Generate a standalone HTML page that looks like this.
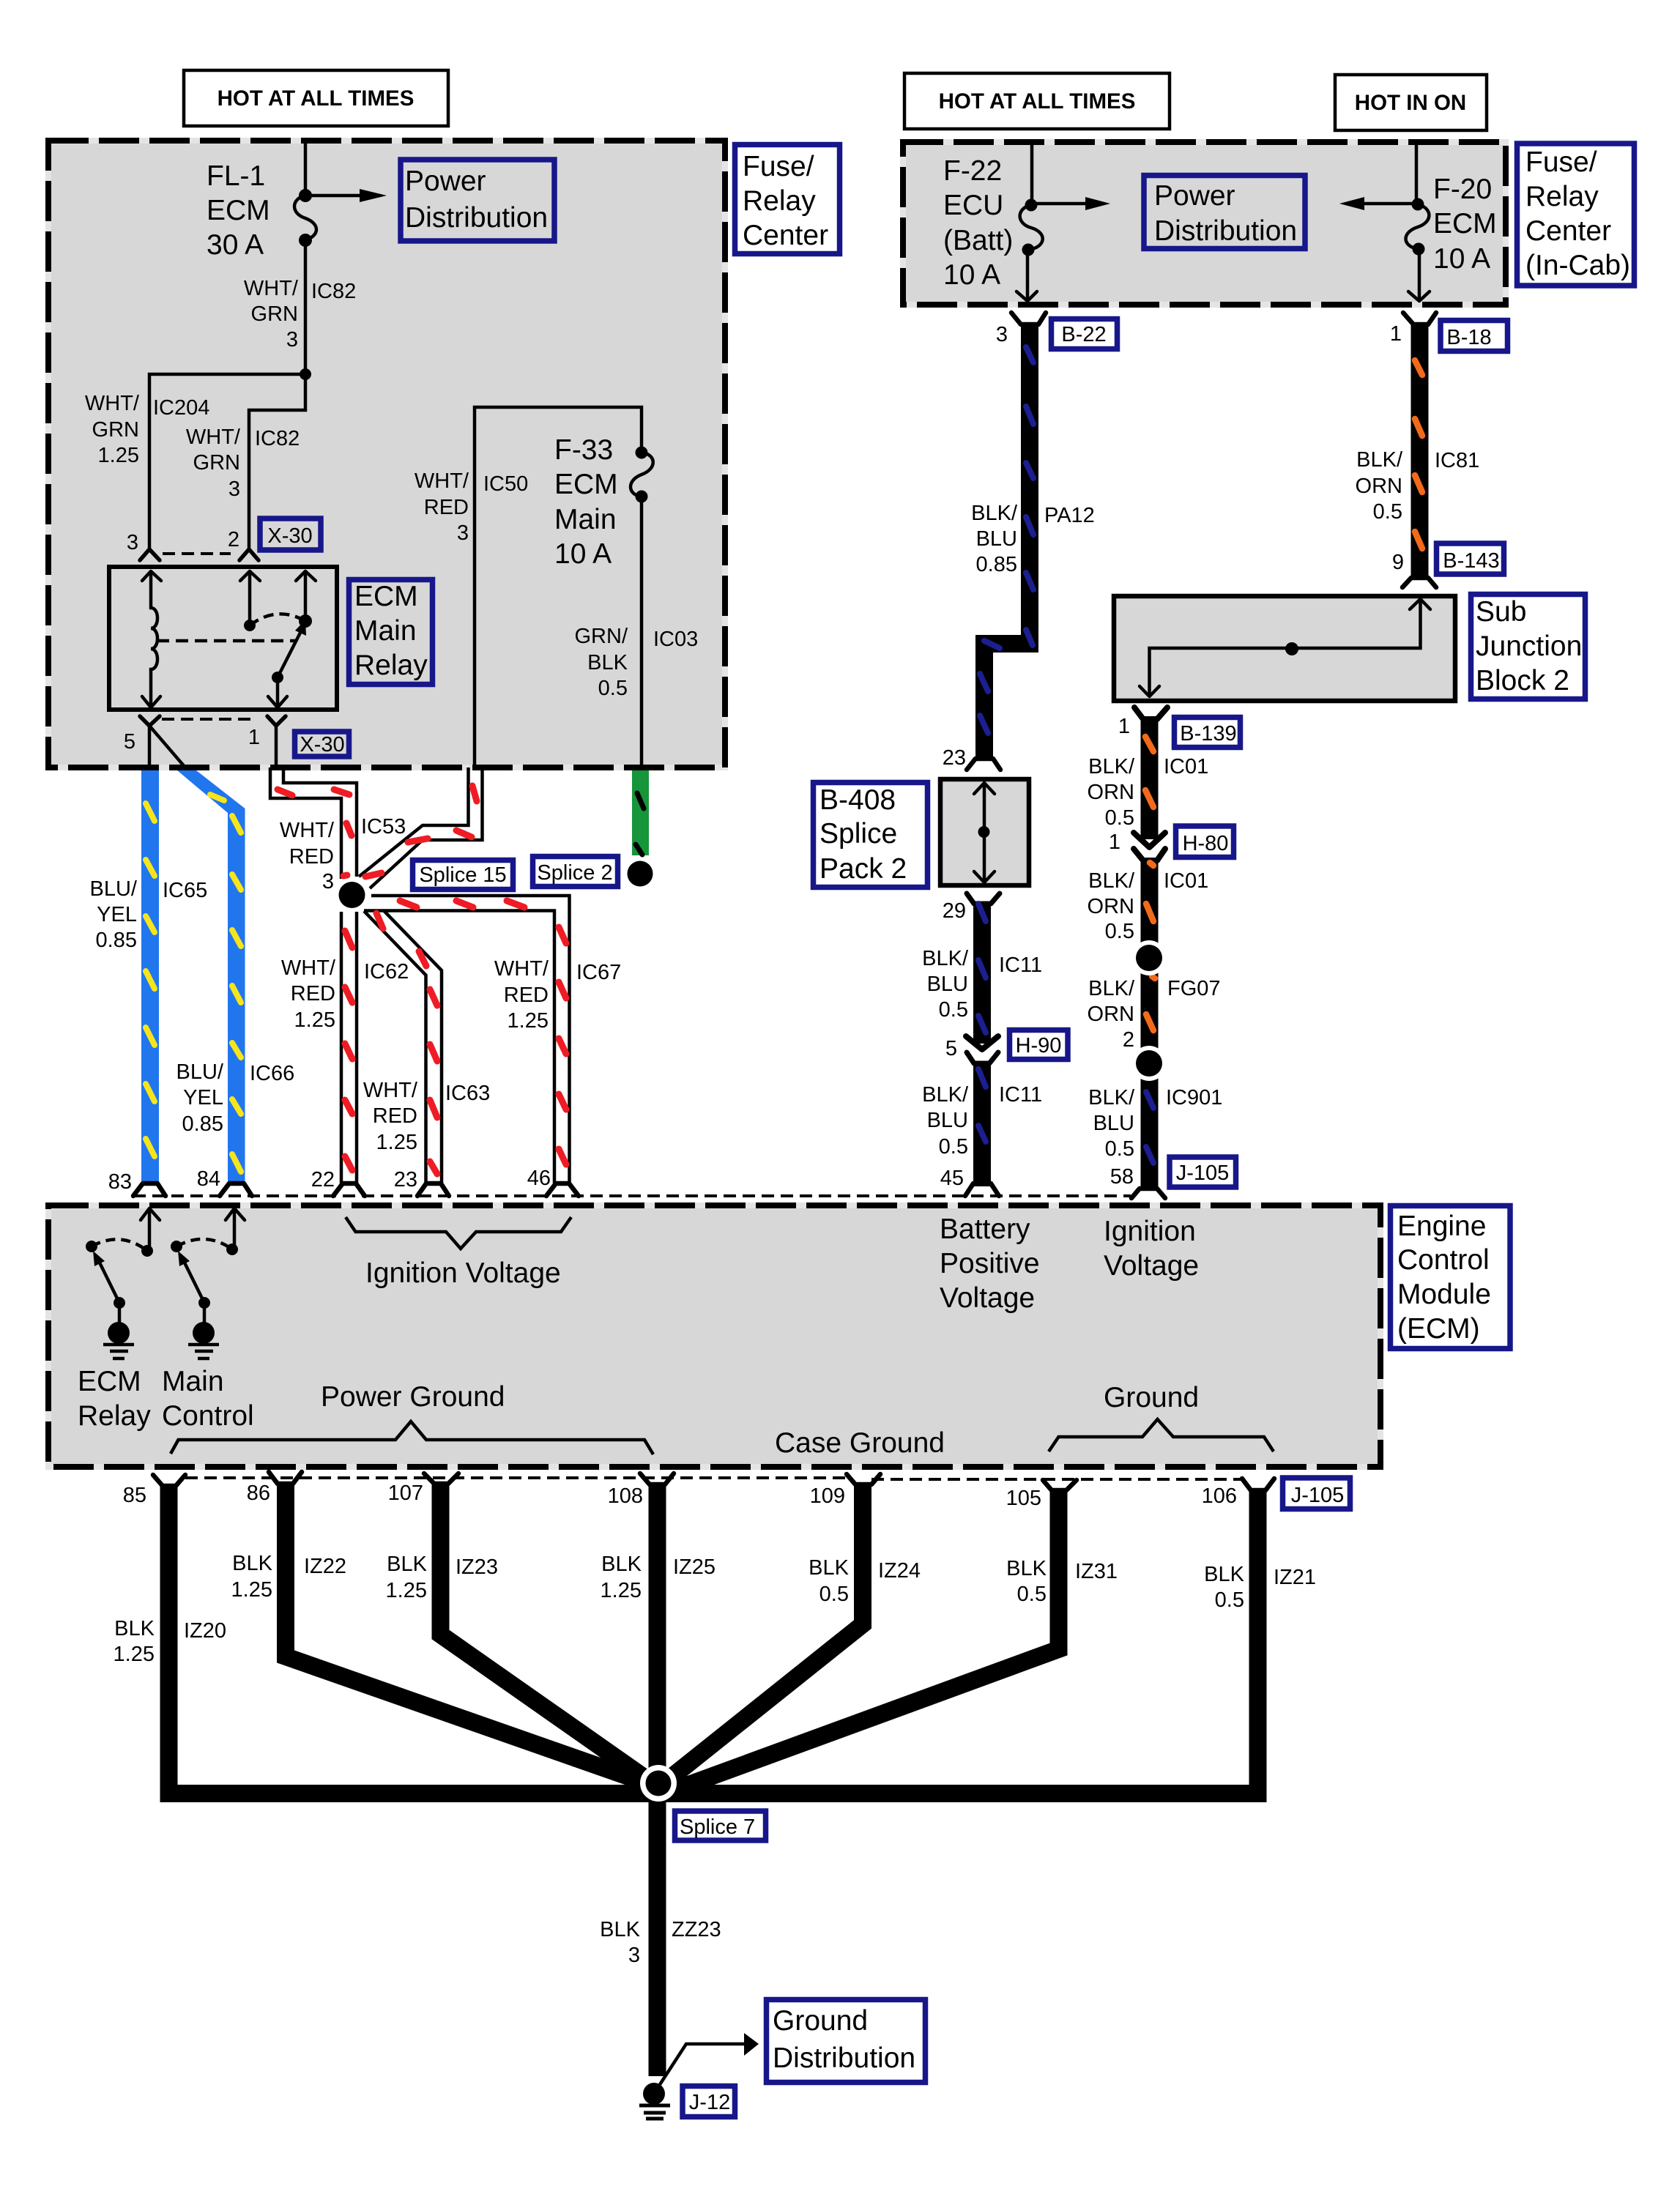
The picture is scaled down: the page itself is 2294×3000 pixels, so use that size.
<!DOCTYPE html>
<html><head><meta charset="utf-8"><style>
html,body{margin:0;padding:0;background:#fff}
svg{display:block}
text{font-family:"Liberation Sans",sans-serif;fill:#000}
.s{font-size:29px}.l{font-size:39px}.b{font-size:29.5px;font-weight:bold}
.r{text-anchor:end}.m{text-anchor:middle}
.w{stroke:#000;stroke-width:4.5;fill:none;stroke-linejoin:miter}
.t{stroke:#000;stroke-width:4.5;fill:none}
.c{stroke:#000;stroke-width:4.5;fill:none;stroke-linecap:round;stroke-linejoin:round}
.p{stroke:#000;stroke-width:6.5;fill:none;stroke-linecap:round;stroke-linejoin:round}
.d{stroke:#000;stroke-width:4;fill:none;stroke-dasharray:17 9}
.k{stroke:#000;stroke-width:24;fill:none;stroke-linejoin:miter}
.bx{stroke:#17178a;stroke-width:7.5;fill:#fff}
.bg{stroke:#17178a;stroke-width:7.5;fill:none}
.hb{stroke:#000;stroke-width:4.5;fill:#fff}
.db{fill:#d7d7d7;stroke:#e4e4e4;stroke-width:8}
.dd{fill:none;stroke:#000;stroke-width:8;stroke-dasharray:55 14}
.red line,.red{stroke:#ee1c25;stroke-width:9;stroke-linecap:round}
.yel line{stroke:#f7e51c;stroke-width:8;stroke-linecap:round}
.blu line{stroke:#1b1f8f;stroke-width:8;stroke-linecap:round}
.org line{stroke:#f26a1b;stroke-width:8.5;stroke-linecap:round}
.blk line{stroke:#000;stroke-width:7;stroke-linecap:round}
</style></head><body>
<svg width="2294" height="3000" viewBox="0 0 2294 3000" xmlns="http://www.w3.org/2000/svg">
<rect width="2294" height="3000" fill="#fff"/>

<!-- gray dashed containers -->
<rect class="db" x="66" y="192" width="924" height="856"/>
<rect class="dd" x="66" y="192" width="924" height="856"/>
<rect class="db" x="1233" y="194" width="823" height="222"/>
<rect class="dd" x="1233" y="194" width="823" height="222"/>
<rect class="db" x="66" y="1646" width="1819" height="357"/>
<rect class="dd" x="66" y="1646" width="1819" height="357"/>

<!-- header boxes -->
<rect class="hb" x="251" y="96" width="361" height="76"/>
<text class="b m" x="431" y="144">HOT AT ALL TIMES</text>
<rect class="hb" x="1235" y="100" width="362" height="76"/>
<text class="b m" x="1416" y="148">HOT AT ALL TIMES</text>
<rect class="hb" x="1823" y="102" width="207" height="76"/>
<text class="b m" x="1926" y="150">HOT IN ON</text>

<!-- Left fuse center wires -->
<path class="w" d="M417 192V267M417 328V511M417 511H204V750M417 511V560H340V750"/>
<path class="w" d="M417 267C398 271 396 291 417 298C438 306 436 322 417 328" />
<circle cx="417" cy="267" r="9"/><circle cx="417" cy="328" r="9"/><circle cx="417" cy="511" r="8"/>
<path class="w" d="M417 267H495"/><path d="M491 258L528 267L491 276Z"/>
<text class="l" x="282" y="253">FL-1</text><text class="l" x="282" y="300">ECM</text><text class="l" x="282" y="347">30 A</text>
<rect class="bg" x="547" y="218" width="210" height="111"/>
<text class="l" x="553" y="260">Power</text><text class="l" x="553" y="310">Distribution</text>
<rect class="bx" x="1003.500" y="197.500" width="143" height="149"/>
<text class="l" x="1014" y="240">Fuse/</text><text class="l" x="1014" y="287">Relay</text><text class="l" x="1014" y="334">Center</text>

<text class="s r" x="407" y="403">WHT/</text><text class="s r" x="407" y="438">GRN</text><text class="s r" x="407" y="473">3</text><text class="s" x="425" y="407">IC82</text>
<text class="s r" x="190" y="560">WHT/</text><text class="s r" x="190" y="596">GRN</text><text class="s r" x="190" y="631">1.25</text><text class="s" x="209" y="566">IC204</text>
<text class="s r" x="328" y="606">WHT/</text><text class="s r" x="328" y="641">GRN</text><text class="s r" x="328" y="677">3</text><text class="s" x="348" y="608">IC82</text>
<text class="s r" x="189" y="750">3</text><text class="s r" x="327" y="746">2</text>
<rect class="bg" x="355" y="708" width="83" height="43"/><text class="s m" x="396" y="741">X-30</text>
<polyline class="p" style="stroke-width:5.5" points="191,765 204,750 218,765"/><polyline class="p" style="stroke-width:5.5" points="327,765 340,750 353,765"/>
<path class="d" d="M222 756H315"/>

<!-- Relay -->
<rect x="149" y="774" width="311" height="195" fill="none" stroke="#000" stroke-width="6"/>
<path class="w" d="M206 780V830c12 0 12 28 0 28c12 0 12 28 0 28c12 0 12 28 0 28V966"/>
<polyline class="c" points="194,793 206,780 220,793"/><polyline class="c" points="194,951 206,966 219,951"/>
<path class="d" style="stroke-width:4.5" d="M214 875H403"/>
<path class="w" d="M341 780V854M417 780V848M379 925V966"/>
<polyline class="c" points="328,793 341,780 355,793"/><polyline class="c" points="404,793 417,780 431,793"/><polyline class="c" points="366,951 379,966 392,951"/>
<circle cx="341" cy="854" r="8"/><circle cx="417" cy="848" r="9"/><circle cx="379" cy="925" r="8"/>
<path class="d" style="stroke-width:4.5;stroke-dasharray:14 8" d="M341 854Q378 826 417 848"/>
<path class="w" d="M379 925L412 860"/><path d="M417 846L418 868L403 861Z"/>
<rect class="bg" x="476.500" y="791.500" width="114" height="143"/>
<text class="l" x="484" y="827">ECM</text><text class="l" x="484" y="874">Main</text><text class="l" x="484" y="921">Relay</text>
<polyline class="p" style="stroke-width:5.5" points="191,978 204,991 218,978"/><polyline class="p" style="stroke-width:5.5" points="365,978 377,991 390,978"/>
<path class="d" d="M221 982H346"/>
<path class="w" d="M204 991V1048M204 991L253 1048M377 991V1048"/>
<text class="s r" x="185" y="1022">5</text><text class="s r" x="355" y="1016">1</text>
<rect class="bg" x="402.500" y="999" width="74" height="34"/><text class="s m" x="440" y="1026">X-30</text>

<path class="w" d="M648 1048V556H876V618M876 678V1048"/>
<path class="w" d="M876 618C896 620 898 640 876 648C855 656 857 676 876 678"/>
<circle cx="876" cy="618" r="8.500"/><circle cx="876" cy="678" r="8.500"/>
<text class="s r" x="640" y="666">WHT/</text><text class="s r" x="640" y="702">RED</text><text class="s r" x="640" y="737">3</text><text class="s" x="660" y="670">IC50</text>
<text class="l" x="757" y="627">F-33</text><text class="l" x="757" y="674">ECM</text><text class="l" x="757" y="722">Main</text><text class="l" x="757" y="769">10 A</text>
<text class="s r" x="857" y="878">GRN/</text><text class="s r" x="857" y="914">BLK</text><text class="s r" x="857" y="949">0.5</text><text class="s" x="892" y="882">IC03</text>

<!-- Blue wires -->
<rect x="193" y="1052" width="24" height="564" fill="#2176ee"/>
<polygon points="242,1052 268,1052 334.500,1104 334.500,1616 311,1616 311,1110" fill="#2176ee"/>
<g class="yel">
<line x1="199" y1="1097" x2="211" y2="1121"/><line x1="199" y1="1174" x2="211" y2="1196"/><line x1="199" y1="1251" x2="211" y2="1273"/><line x1="199" y1="1326" x2="211" y2="1350"/><line x1="199" y1="1403" x2="211" y2="1427"/><line x1="199" y1="1480" x2="211" y2="1504"/><line x1="199" y1="1555" x2="211" y2="1579"/>
<line x1="287" y1="1085" x2="306" y2="1093"/><line x1="317" y1="1114" x2="329" y2="1137"/><line x1="317" y1="1194" x2="329" y2="1215"/><line x1="317" y1="1270" x2="329" y2="1292"/><line x1="317" y1="1346" x2="329" y2="1369"/><line x1="317" y1="1424" x2="329" y2="1444"/><line x1="317" y1="1501" x2="329" y2="1521"/><line x1="317" y1="1576" x2="329" y2="1600"/>
</g>

<!-- White/red wires -->
<path class="t" d="M369 1048V1090H466V1200M387 1048V1069H487V1197"/>
<path class="t" d="M639.500 1048V1127H577L490 1197M658.500 1048V1147H577L505 1213"/>
<path class="t" d="M466 1245V1616M487 1245V1616"/>
<path class="t" d="M507 1223H777.500V1616M497 1243.500H757V1616"/>
<path class="t" d="M497 1244L581.500 1331.500V1616M524.500 1244L603 1325V1616"/>
<g class="red">
<line x1="379" y1="1078" x2="399" y2="1086"/><line x1="456" y1="1078" x2="477" y2="1085"/><line x1="473" y1="1124" x2="480" y2="1141"/><line x1="469" y1="1196" x2="474" y2="1195"/>
<line x1="471" y1="1271" x2="481" y2="1294"/><line x1="471" y1="1348" x2="481" y2="1369"/><line x1="471" y1="1425" x2="481" y2="1446"/><line x1="471" y1="1502" x2="481" y2="1521"/><line x1="471" y1="1579" x2="481" y2="1598"/>
<line x1="645" y1="1073" x2="651" y2="1094"/><line x1="623" y1="1134" x2="644" y2="1143"/><line x1="557" y1="1150" x2="584" y2="1145"/><line x1="499" y1="1197" x2="521" y2="1192"/>
<line x1="546" y1="1230" x2="569" y2="1239"/><line x1="623" y1="1230" x2="646" y2="1239"/><line x1="692" y1="1230" x2="716" y2="1239"/>
<line x1="763" y1="1266" x2="773" y2="1288"/><line x1="763" y1="1341" x2="773" y2="1363"/><line x1="763" y1="1418" x2="773" y2="1439"/><line x1="763" y1="1494" x2="773" y2="1515"/><line x1="763" y1="1569" x2="773" y2="1590"/>
<line x1="514" y1="1247" x2="523" y2="1268"/><line x1="572" y1="1299" x2="582" y2="1319"/><line x1="587" y1="1351" x2="597" y2="1373"/><line x1="587" y1="1426" x2="597" y2="1449"/><line x1="587" y1="1502" x2="597" y2="1526"/><line x1="587" y1="1586" x2="597" y2="1603"/>
</g>
<circle cx="480.500" cy="1222" r="23" fill="#fff"/><circle cx="480.500" cy="1222" r="18"/>
<rect x="863" y="1052" width="23" height="116" fill="#16953a"/>
<g class="blk"><line x1="870" y1="1083" x2="879" y2="1104"/><line x1="868" y1="1153" x2="877" y2="1167"/></g>
<circle cx="874" cy="1193" r="22" fill="#fff"/><circle cx="874" cy="1193" r="17.500"/>
<rect class="bx" x="563.500" y="1174.500" width="137" height="40"/><text class="s m" x="632" y="1204">Splice 15</text>
<rect class="bx" x="727.500" y="1169.500" width="116" height="41"/><text class="s m" x="785" y="1201">Splice 2</text>

<text class="s r" x="456" y="1143">WHT/</text><text class="s r" x="456" y="1179">RED</text><text class="s r" x="456" y="1213">3</text><text class="s" x="493" y="1138">IC53</text>
<text class="s r" x="187" y="1223">BLU/</text><text class="s r" x="187" y="1258">YEL</text><text class="s r" x="187" y="1293">0.85</text><text class="s" x="222" y="1225">IC65</text>
<text class="s r" x="305" y="1473">BLU/</text><text class="s r" x="305" y="1508">YEL</text><text class="s r" x="305" y="1544">0.85</text><text class="s" x="341" y="1475">IC66</text>
<text class="s r" x="458" y="1331">WHT/</text><text class="s r" x="458" y="1366">RED</text><text class="s r" x="458" y="1402">1.25</text><text class="s" x="497" y="1336">IC62</text>
<text class="s r" x="570" y="1498">WHT/</text><text class="s r" x="570" y="1533">RED</text><text class="s r" x="570" y="1569">1.25</text><text class="s" x="608" y="1502">IC63</text>
<text class="s r" x="749" y="1332">WHT/</text><text class="s r" x="749" y="1368">RED</text><text class="s r" x="749" y="1403">1.25</text><text class="s" x="787" y="1337">IC67</text>
<text class="s r" x="180" y="1623">83</text><text class="s r" x="301" y="1619">84</text><text class="s r" x="457" y="1620">22</text><text class="s r" x="570" y="1620">23</text><text class="s r" x="752" y="1618">46</text>

<!-- pin connectors top of ECM -->
<path class="d" d="M182 1633H1544"/>
<polyline class="p" points="182,1633 195,1616 215,1616 226,1633"/>
<polyline class="p" points="300,1633 313,1616 333,1616 344,1633"/>
<polyline class="p" points="455,1633 468,1616 486,1616 498,1633"/>
<polyline class="p" points="570,1633 582,1616 602,1616 613,1633"/>
<polyline class="p" points="746,1633 759,1616 777,1616 790,1633"/>
<polyline class="p" points="1318,1633 1329,1616 1353,1616 1364,1633"/>
<polyline class="p" points="1545,1636 1556,1623 1580,1623 1591,1636"/>

<!-- ECM internals -->
<path class="w" d="M204 1650V1708M320 1650V1706"/>
<polyline class="c" points="192,1666 204,1650 218,1666"/><polyline class="c" points="308,1666 320,1650 334,1666"/>
<circle cx="201" cy="1708" r="8"/><circle cx="317" cy="1706" r="8"/>
<circle cx="125" cy="1702" r="8"/><circle cx="241" cy="1702" r="8"/>
<path class="d" style="stroke-width:4.5;stroke-dasharray:13 8" d="M125 1702Q165 1680 201 1708M241 1702Q281 1680 317 1706"/>
<path class="w" d="M163 1779L132 1716M279 1779L248 1716"/>
<path d="M127 1708L143 1722L129 1729ZM243 1708L259 1722L245 1729Z"/>
<circle cx="163" cy="1779" r="8"/><circle cx="279" cy="1779" r="8"/>
<path class="w" d="M163 1779V1810M279 1779V1810"/>
<circle cx="162" cy="1820" r="15"/><circle cx="278" cy="1820" r="15"/>
<path stroke="#000" stroke-width="4.5" fill="none" d="M141 1836H183M150 1845H175M154 1855H170M257 1836H299M266 1845H291M270 1855H286"/>
<text class="l" x="106" y="1899">ECM</text><text class="l" x="106" y="1946">Relay</text>
<text class="l" x="221" y="1899">Main</text><text class="l" x="221" y="1946">Control</text>
<text class="l" x="499" y="1751">Ignition Voltage</text>
<text class="l" x="438" y="1920">Power Ground</text>
<text class="l" x="1058" y="1983">Case Ground</text>
<text class="l" x="1507" y="1921">Ground</text>
<text class="l" x="1283" y="1691">Battery</text><text class="l" x="1283" y="1738">Positive</text><text class="l" x="1283" y="1785">Voltage</text>
<text class="l" x="1507" y="1694">Ignition</text><text class="l" x="1507" y="1741">Voltage</text>
<polyline class="w" points="472,1662 485.500,1682 609,1682 629,1705 650,1682 766,1682 780,1662"/>
<polyline class="w" points="233,1985 243.500,1966 540,1966 561,1941 582,1966 880,1966 892,1986"/>
<polyline class="w" points="1432,1982 1445.500,1962 1560,1962 1580.500,1938 1602,1962 1726,1962 1739,1982"/>
<rect class="bx" x="1898.500" y="1646.500" width="163.500" height="195"/>
<text class="l" x="1908" y="1687">Engine</text><text class="l" x="1908" y="1733">Control</text><text class="l" x="1908" y="1780">Module</text><text class="l" x="1908" y="1827">(ECM)</text>

<!-- Right fuse centre -->
<path class="w" d="M1409 194V280M1403 341V408M1934 194V279M1938 340V408"/>
<path class="w" d="M1408 280C1388 284 1387 305 1408 311C1431 318 1428 338 1404 341"/>
<path class="w" d="M1936 279C1956 284 1957 303 1936 310C1914 317 1914 336 1936 340"/>
<circle cx="1408" cy="280" r="8.500"/><circle cx="1404" cy="341" r="8.500"/><circle cx="1936" cy="279" r="8.500"/><circle cx="1937" cy="340" r="8.500"/>
<path class="w" d="M1408 278H1485M1934 278H1860"/>
<path d="M1482 269L1516 278L1482 287ZM1863 269L1829 278L1863 287Z"/>
<polyline class="c" points="1388,398 1403,411 1416,398"/><polyline class="c" points="1923,398 1938,411 1952,398"/>
<text class="l" x="1288" y="246">F-22</text><text class="l" x="1288" y="293">ECU</text><text class="l" x="1288" y="341">(Batt)</text><text class="l" x="1288" y="388">10 A</text>
<rect class="bg" x="1562" y="239.500" width="220" height="100"/>
<text class="l" x="1576" y="280">Power</text><text class="l" x="1576" y="328">Distribution</text>
<text class="l" x="1957" y="271">F-20</text><text class="l" x="1957" y="318">ECM</text><text class="l" x="1957" y="366">10 A</text>
<rect class="bx" x="2071.500" y="196" width="160" height="194"/>
<text class="l" x="2083" y="234">Fuse/</text><text class="l" x="2083" y="281">Relay</text><text class="l" x="2083" y="328">Center</text><text class="l" x="2083" y="375">(In-Cab)</text>

<!-- PA12 wire -->
<path class="k" d="M1406 441V879H1344V1036"/>
<polyline class="p" points="1381,427 1394,443 1418,443 1428,427"/>
<polyline class="p" points="1320,1051 1332,1036 1356,1036 1366,1051"/>
<g class="blu">
<line x1="1401" y1="474" x2="1411" y2="495"/><line x1="1401" y1="555" x2="1411" y2="579"/><line x1="1401" y1="632" x2="1411" y2="653"/><line x1="1401" y1="706" x2="1411" y2="730"/><line x1="1401" y1="782" x2="1411" y2="805"/><line x1="1401" y1="860" x2="1410" y2="881"/><line x1="1344" y1="875" x2="1365" y2="885"/><line x1="1338" y1="920" x2="1349" y2="944"/><line x1="1338" y1="977" x2="1349" y2="1001"/>
</g>
<rect class="bx" x="1435.500" y="435.500" width="90" height="41"/><text class="s m" x="1480" y="466">B-22</text>
<text class="s r" x="1376" y="466">3</text>
<text class="s r" x="1389" y="710">BLK/</text><text class="s r" x="1389" y="745">BLU</text><text class="s r" x="1389" y="780">0.85</text><text class="s" x="1426" y="713">PA12</text>
<text class="s r" x="1319" y="1044">23</text>

<!-- IC81 -->
<path class="k" d="M1938.500 441V790"/>
<polyline class="p" points="1916,427 1930,443 1950,443 1961,427"/>
<polyline class="p" points="1915,802 1927,789 1950,789 1961,802"/>
<g class="org"><line x1="1932" y1="492" x2="1942" y2="512"/><line x1="1932" y1="572" x2="1942" y2="595"/><line x1="1932" y1="649" x2="1942" y2="672"/><line x1="1932" y1="726" x2="1942" y2="749"/></g>
<rect class="bx" x="1967" y="437.500" width="91.500" height="42"/><text class="s m" x="2006" y="470">B-18</text>
<text class="s r" x="1914" y="465">1</text>
<text class="s r" x="1915" y="637">BLK/</text><text class="s r" x="1915" y="673">ORN</text><text class="s r" x="1915" y="708">0.5</text><text class="s" x="1959" y="638">IC81</text>
<text class="s r" x="1917" y="777">9</text>
<rect class="bx" x="1961.500" y="742" width="92" height="42"/><text class="s m" x="2009" y="775">B-143</text>

<!-- SJB -->
<rect x="1521" y="814" width="466" height="143" fill="#d7d7d7" stroke="#000" stroke-width="6.500"/>
<path class="w" d="M1939.500 818V885H1569.500V951"/>
<polyline class="c" points="1925,832 1939.500,818 1953,832"/><polyline class="c" points="1556,937 1569.500,951 1583,937"/>
<circle cx="1764" cy="886" r="9"/>
<rect class="bx" x="2008.500" y="811.500" width="156" height="143"/>
<text class="l" x="2015" y="848">Sub</text><text class="l" x="2015" y="895">Junction</text><text class="l" x="2015" y="942">Block 2</text>

<!-- B-408 -->
<rect class="bx" x="1110.500" y="1068.500" width="156" height="143"/>
<text class="l" x="1119" y="1105">B-408</text><text class="l" x="1119" y="1151">Splice</text><text class="l" x="1119" y="1199">Pack 2</text>
<rect x="1284" y="1064" width="121" height="145" fill="#d7d7d7" stroke="#000" stroke-width="6.500"/>
<path class="w" d="M1344 1070V1204"/>
<polyline class="c" points="1330,1084 1344,1069 1358,1084"/><polyline class="c" points="1330,1190 1344,1205 1358,1190"/>
<circle cx="1343.500" cy="1136" r="8"/>

<!-- IC11 -->
<path class="k" d="M1341 1234V1425M1341 1452V1620"/>
<polyline class="p" style="stroke-width:7" points="1320,1220 1330,1234 1353,1234 1365,1220"/>
<polyline class="p" style="stroke-width:8" points="1319,1415 1341,1433 1363,1415"/>
<polyline class="p" style="stroke-width:7" points="1320,1437 1330,1452 1351,1452 1363,1437"/>
<g class="blu"><line x1="1336" y1="1234" x2="1346" y2="1258"/><line x1="1336" y1="1311" x2="1346" y2="1335"/><line x1="1336" y1="1387" x2="1346" y2="1410"/><line x1="1336" y1="1460" x2="1346" y2="1484"/><line x1="1336" y1="1537" x2="1346" y2="1559"/></g>
<text class="s r" x="1319" y="1253">29</text>
<text class="s r" x="1322" y="1318">BLK/</text><text class="s r" x="1322" y="1353">BLU</text><text class="s r" x="1322" y="1388">0.5</text><text class="s" x="1364" y="1327">IC11</text>
<text class="s r" x="1307" y="1441">5</text>
<rect class="bx" x="1378.500" y="1406.500" width="79.500" height="40"/><text class="s m" x="1418" y="1437">H-90</text>
<text class="s r" x="1322" y="1504">BLK/</text><text class="s r" x="1322" y="1539">BLU</text><text class="s r" x="1322" y="1575">0.5</text><text class="s" x="1364" y="1504">IC11</text>
<text class="s r" x="1316" y="1618">45</text>

<!-- IC01 -->
<path class="k" d="M1569.500 982V1146M1569.500 1175V1623"/>
<polyline class="p" style="stroke-width:8" points="1549,966 1561,982 1580,982 1594,966"/>
<polyline class="p" style="stroke-width:8" points="1548,1137 1569.500,1157 1591,1137"/>
<polyline class="p" style="stroke-width:8" points="1548,1159 1561,1175 1580,1175 1591,1159"/>
<g class="org"><line x1="1564" y1="1006" x2="1575" y2="1026"/><line x1="1564" y1="1079" x2="1575" y2="1102"/><line x1="1570" y1="1178" x2="1575" y2="1182"/><line x1="1565" y1="1234" x2="1575" y2="1258"/><line x1="1573" y1="1333" x2="1577" y2="1336"/><line x1="1565" y1="1385" x2="1575" y2="1407"/></g>
<g class="blu"><line x1="1565" y1="1491" x2="1575" y2="1513"/><line x1="1565" y1="1566" x2="1575" y2="1588"/></g>
<circle cx="1569" cy="1308" r="24" fill="#fff"/><circle cx="1569" cy="1308" r="18"/>
<circle cx="1569" cy="1452" r="24" fill="#fff"/><circle cx="1569" cy="1452" r="18"/>
<text class="s r" x="1543" y="1001">1</text>
<rect class="bx" x="1603.500" y="979.500" width="90" height="41"/><text class="s m" x="1650" y="1011">B-139</text>
<text class="s r" x="1549" y="1056">BLK/</text><text class="s r" x="1549" y="1091">ORN</text><text class="s r" x="1549" y="1126">0.5</text><text class="s" x="1589" y="1056">IC01</text>
<text class="s r" x="1530" y="1159">1</text>
<rect class="bx" x="1605.500" y="1128" width="79" height="42.500"/><text class="s m" x="1646" y="1161">H-80</text>
<text class="s r" x="1549" y="1212">BLK/</text><text class="s r" x="1549" y="1247">ORN</text><text class="s r" x="1549" y="1281">0.5</text><text class="s" x="1589" y="1212">IC01</text>
<text class="s r" x="1549" y="1359">BLK/</text><text class="s r" x="1549" y="1394">ORN</text><text class="s r" x="1549" y="1429">2</text><text class="s" x="1594" y="1359">FG07</text>
<text class="s r" x="1549" y="1508">BLK/</text><text class="s r" x="1549" y="1543">BLU</text><text class="s r" x="1549" y="1578">0.5</text><text class="s" x="1592" y="1508">IC901</text>
<text class="s r" x="1548" y="1616">58</text>
<rect class="bx" x="1597" y="1580" width="90.500" height="41"/><text class="s m" x="1642" y="1611">J-105</text>

<!-- Bottom ground wires -->
<path class="d" d="M253 2018H1160M1190 2020H1696"/>
<path class="k" d="M230.500 2029V2449H1717.500V2035"/>
<path class="k" d="M390 2026V2262L898 2440"/>
<path class="k" d="M601.500 2026V2232L898 2440"/>
<path class="k" d="M897.500 2027V2835"/>
<path class="k" d="M1178 2027V2218L900 2440"/>
<path class="k" d="M1445.500 2035V2252L905 2450"/>
<polyline class="p" points="209,2014 222,2029 240,2029 253,2014"/>
<polyline class="p" points="367,2010 379,2026 400,2026 412,2010"/>
<polyline class="p" points="579,2012 593,2026 612,2026 626,2012"/>
<polyline class="p" points="874,2012 887,2027 908,2027 920,2012"/>
<polyline class="p" points="1156,2013 1168,2027 1190,2027 1202,2013"/>
<polyline class="p" points="1424,2021 1436,2035 1456,2035 1470,2021"/>
<polyline class="p" points="1696,2019 1708,2035 1728,2035 1740,2019"/>
<circle cx="899" cy="2435" r="25" fill="#fff"/><circle cx="899" cy="2435" r="17.500"/>
<rect class="bx" x="921.500" y="2473" width="124" height="40"/><text class="s" x="928" y="2504">Splice 7</text>
<text class="s r" x="200" y="2051">85</text><text class="s r" x="369" y="2048">86</text><text class="s r" x="578" y="2048">107</text><text class="s r" x="878" y="2052">108</text><text class="s r" x="1154" y="2052">109</text><text class="s r" x="1422" y="2055">105</text><text class="s r" x="1689" y="2052">106</text>
<rect class="bx" x="1751.500" y="2018" width="92" height="42.500"/><text class="s m" x="1799" y="2051">J-105</text>
<text class="s r" x="211" y="2233">BLK</text><text class="s r" x="211" y="2268">1.25</text><text class="s" x="251" y="2236">IZ20</text>
<text class="s r" x="372" y="2144">BLK</text><text class="s r" x="372" y="2180">1.25</text><text class="s" x="415" y="2148">IZ22</text>
<text class="s r" x="583" y="2145">BLK</text><text class="s r" x="583" y="2181">1.25</text><text class="s" x="622" y="2149">IZ23</text>
<text class="s r" x="876" y="2145">BLK</text><text class="s r" x="876" y="2181">1.25</text><text class="s" x="919" y="2149">IZ25</text>
<text class="s r" x="1159" y="2150">BLK</text><text class="s r" x="1159" y="2186">0.5</text><text class="s" x="1199" y="2154">IZ24</text>
<text class="s r" x="1429" y="2151">BLK</text><text class="s r" x="1429" y="2186">0.5</text><text class="s" x="1468" y="2155">IZ31</text>
<text class="s r" x="1699" y="2159">BLK</text><text class="s r" x="1699" y="2194">0.5</text><text class="s" x="1739" y="2163">IZ21</text>
<text class="s r" x="874" y="2644">BLK</text><text class="s r" x="874" y="2679">3</text><text class="s" x="917" y="2644">ZZ23</text>

<!-- ground symbol -->
<circle cx="893" cy="2859" r="22" fill="#fff"/><circle cx="893" cy="2859" r="15"/>
<path stroke="#000" stroke-width="5" fill="none" d="M873 2875H915M879 2885H909M882 2893H906"/>
<path class="w" d="M898 2851L937 2791H1018"/><path d="M1016 2776L1036 2791L1016 2807Z"/>
<rect class="bx" x="932" y="2848.500" width="71.500" height="42"/><text class="s m" x="969" y="2880">J-12</text>
<rect class="bx" x="1046.500" y="2730.500" width="217" height="113"/>
<text class="l" x="1055" y="2772">Ground</text><text class="l" x="1055" y="2823">Distribution</text>
</svg>
</body></html>
